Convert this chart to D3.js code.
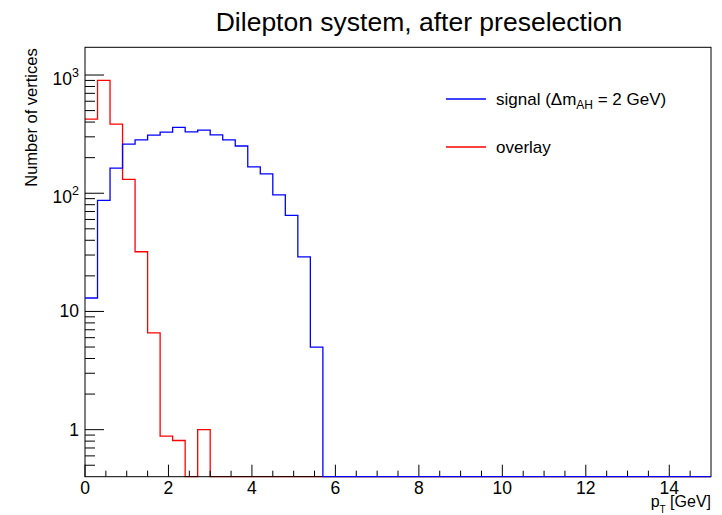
<!DOCTYPE html>
<html>
<head>
<meta charset="utf-8">
<script src="https://cdn.jsdelivr.net/npm/d3@7"></script>
<style>
  html, body { margin: 0; padding: 0; background: #fff; }
  svg { display: block; font-family: "Liberation Sans", Arial, Helvetica, sans-serif; }
</style>
</head>
<body>
<svg id="chart" width="722" height="515"></svg>
<script>
// ---- data ----
const binWidth = 0.3;                 // GeV per bin
const xRange = [0, 15];
const yRange = [0.4, 1716];
// bin contents starting at pT = 0 (bins beyond the listed ones are empty)
const signalValues  = [13, 87, 163, 260, 283, 310, 329, 360, 330, 342, 312, 283, 251, 167, 146, 97, 65, 29, 5];
const overlayValues = [424, 900, 385, 131, 32, 6.6, 0.88, 0.81, 0, 1.0];
const xMajorTicks = [0, 2, 4, 6, 8, 10, 12, 14];
const xMinorTicks = [0.5, 1, 1.5, 2.5, 3, 3.5, 4.5, 5, 5.5, 6.5, 7, 7.5, 8.5, 9, 9.5, 10.5, 11, 11.5, 12.5, 13, 13.5, 14.5];
const yMajorTicks = [1, 10, 100, 1000];
const yMajorLabels = [["1", ""], ["10", ""], ["10", "2"], ["10", "3"]];
const yMinorTicks = [0.5, 0.6, 0.7, 0.8, 0.9, 2, 3, 4, 5, 6, 7, 8, 9, 20, 30, 40, 50, 60, 70, 80, 90, 200, 300, 400, 500, 600, 700, 800, 900];
const seriesNames = ["signal", "overlay"];
const seriesColors = ["#0000ff", "#ff0000"];

// ---- layout ----
const L = 85, T = 47.3, R = 711, B = 476.7;
const svg = d3.select("#chart");
const x = d3.scaleLinear().domain(xRange).range([L, R]);
const y = d3.scaleLog().domain(yRange).range([B, T]);

function histPath(vals) {
  const yv = v => (v > 0 ? y(v) : B);
  let p = `M${x(0)},${yv(vals[0])}`;
  for (let i = 0; i < vals.length; i++) {
    p += `H${x((i + 1) * binWidth)}`;
    const next = i + 1 < vals.length ? vals[i + 1] : 0;
    p += `V${yv(next)}`;
  }
  p += `H${x(xRange[1])}`;
  return p;
}

svg.append("clipPath").attr("id", "clip")
  .append("rect").attr("x", L).attr("y", T).attr("width", R - L).attr("height", B - T + 1);

// overlay (red) drawn first
svg.append("path").attr("d", histPath(overlayValues))
  .attr("fill", "none").attr("stroke", seriesColors[1]).attr("stroke-width", 1.3)
  .attr("clip-path", "url(#clip)");

// frame
svg.append("rect").attr("x", L).attr("y", T).attr("width", R - L).attr("height", B - T)
  .attr("fill", "none").attr("stroke", "#000").attr("stroke-width", 1);

// x axis ticks (inside, upward)
const gx = svg.append("g");
gx.selectAll("line.maj").data(xMajorTicks).join("line")
  .attr("x1", d => x(d)).attr("x2", d => x(d)).attr("y1", B).attr("y2", B - 12)
  .attr("stroke", "#000").attr("stroke-width", 1);
gx.selectAll("line.min").data(xMinorTicks).join("line")
  .attr("x1", d => x(d)).attr("x2", d => x(d)).attr("y1", B).attr("y2", B - 6)
  .attr("stroke", "#000").attr("stroke-width", 1);
gx.selectAll("text").data(xMajorTicks).join("text")
  .attr("x", d => x(d)).attr("y", B + 17.5).attr("text-anchor", "middle")
  .attr("font-size", 17.5).attr("fill", "#000").text(d => d);

// y axis ticks (inside, rightward)
const gy = svg.append("g");
gy.selectAll("line.maj").data(yMajorTicks).join("line")
  .attr("x1", L).attr("x2", L + 19).attr("y1", d => y(d)).attr("y2", d => y(d))
  .attr("stroke", "#000").attr("stroke-width", 1);
gy.selectAll("line.min").data(yMinorTicks).join("line")
  .attr("x1", L).attr("x2", L + 10).attr("y1", d => y(d)).attr("y2", d => y(d))
  .attr("stroke", "#000").attr("stroke-width", 1);
yMajorTicks.forEach((v, i) => {
  const [base, exp] = yMajorLabels[i];
  const t = gy.append("text").attr("text-anchor", "end").attr("font-size", 17.5).attr("fill", "#000")
    .attr("x", L - 6).attr("y", y(v) + (exp ? 10 : 6));
  t.append("tspan").text(base);
  if (exp) t.append("tspan").attr("font-size", 12.5).attr("dy", -8).text(exp);
});

// signal (blue) drawn last
svg.append("path").attr("d", histPath(signalValues))
  .attr("fill", "none").attr("stroke", seriesColors[0]).attr("stroke-width", 1.3)
  .attr("clip-path", "url(#clip)");

// title
svg.append("text").attr("x", 419).attr("y", 31).attr("text-anchor", "middle")
  .attr("font-size", 26.5).attr("fill", "#000").text("Dilepton system, after preselection");

// y title
svg.append("text").attr("transform", `translate(37,${T + 1}) rotate(-90)`)
  .attr("text-anchor", "end").attr("font-size", 16.5).attr("fill", "#000").text("Number of vertices");

// x title
const xt = svg.append("text").attr("x", R).attr("y", 507).attr("text-anchor", "end")
  .attr("font-size", 16).attr("fill", "#000");
xt.append("tspan").text("p");
xt.append("tspan").attr("font-size", 10).attr("dy", 6).text("T");
xt.append("tspan").attr("dy", -6).text(" [GeV]");

// legend
const leg = svg.append("g");
const legY = [99, 147];
leg.selectAll("line").data(seriesNames).join("line")
  .attr("x1", 446).attr("x2", 486).attr("y1", (d, i) => legY[i]).attr("y2", (d, i) => legY[i])
  .attr("stroke", (d, i) => seriesColors[i]).attr("stroke-width", 1.3);
const l1 = leg.append("text").attr("x", 496).attr("y", legY[0] + 6).attr("font-size", 17).attr("fill", "#000");
l1.append("tspan").text("signal (Δm");
l1.append("tspan").attr("font-size", 12).attr("dy", 4).text("AH");
l1.append("tspan").attr("dy", -4).text(" = 2 GeV)");
leg.append("text").attr("x", 496).attr("y", legY[1] + 6).attr("font-size", 17).attr("fill", "#000").text("overlay");
</script>
</body>
</html>
